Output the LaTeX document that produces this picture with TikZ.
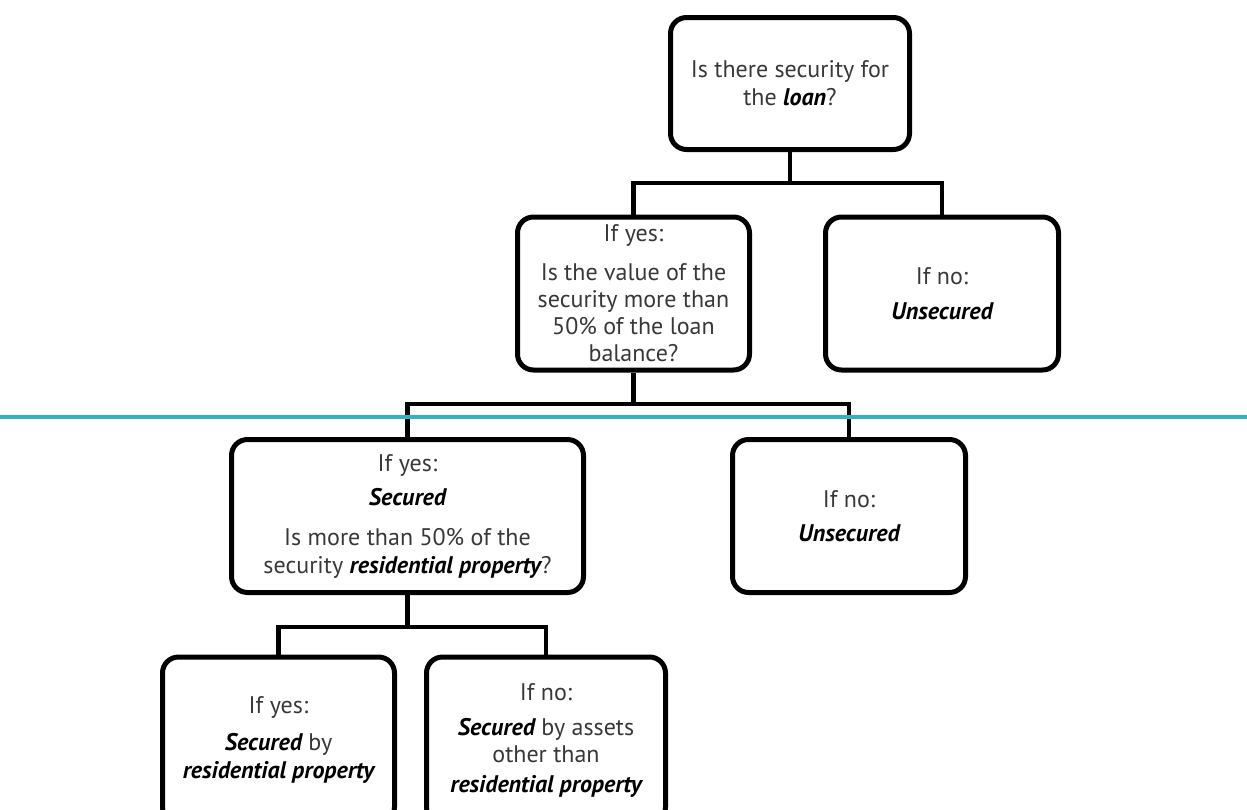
\documentclass[tikz,border=0pt]{standalone}
\usepackage{fontspec}
\setmainfont{PT Sans}
\usetikzlibrary{calc}
\definecolor{txtgray}{HTML}{383838}
\definecolor{tealline}{HTML}{3AAFC4}
\newcommand{\kw}[1]{{\color{black}\bfseries\itshape #1}}
\begin{document}
\begin{tikzpicture}[x=1pt,y=-1pt,
  box/.style={draw=black, line width=5pt, rounded corners=16pt, align=center,
    font=\fontsize{24}{27}\selectfont, text=txtgray, inner sep=0pt},
  conn/.style={draw=black, line width=4.5pt},
  divider/.style={draw=tealline, line width=4pt}]
\coordinate (BL) at (0,0);
\coordinate (TR) at (1247,809);
\useasboundingbox (BL) rectangle (TR);
\clip (BL) rectangle (TR);

\node[box, minimum width=239pt, minimum height=132pt] (top) at (790,83.5)
  {Is there security for\\[1pt]the \kw{loan}?};
\node[box, minimum width=232pt, minimum height=153pt] (b2) at (633.5,293.5)
  {If yes:\\[12pt]Is the value of the\\security more than\\50\% of the loan\\balance?};
\node[box, minimum width=233pt, minimum height=153pt] (b3) at (942,293.5)
  {If no:\\[8pt]\kw{Unsecured}};
\node[box, minimum width=352pt, minimum height=153pt] (b4) at (407.5,516)
  {If yes:\\[7pt]\kw{Secured}\\[13pt]Is more than 50\% of the\\[1pt]security \kw{residential property}?};
\node[box, minimum width=233pt, minimum height=153pt] (b5) at (849,516)
  {If no:\\[7pt]\kw{Unsecured}};
\node[box, minimum width=232pt, minimum height=166pt] (b6) at (278.5,740)
  {If yes:\\[10pt]\kw{Secured} by\\[1pt]\kw{residential property}};
\node[box, minimum width=239pt, minimum height=166pt] (b7) at (546,740)
  {If no:\\[8pt]\kw{Secured} by assets\\other than\\[3pt]\kw{residential property}};

\coordinate (j1) at (790,183);
\coordinate (j2) at (633.5,404);
\coordinate (j3) at (407.5,627);
\draw[conn] (top.south) -- (j1);
\draw[conn] (b2.north) |- (j1) -| (b3.north);
\draw[conn] (b2.south) -- (j2);
\draw[conn] (b4.north) |- (j2) -| (b5.north);
\draw[conn] (b4.south) -- (j3);
\draw[conn] (b6.north) |- (j3) -| (b7.north);

\coordinate (DL) at (0,417);
\coordinate (DR) at (1247,417);
\draw[divider] (DL) -- (DR);
\end{tikzpicture}
\end{document}
